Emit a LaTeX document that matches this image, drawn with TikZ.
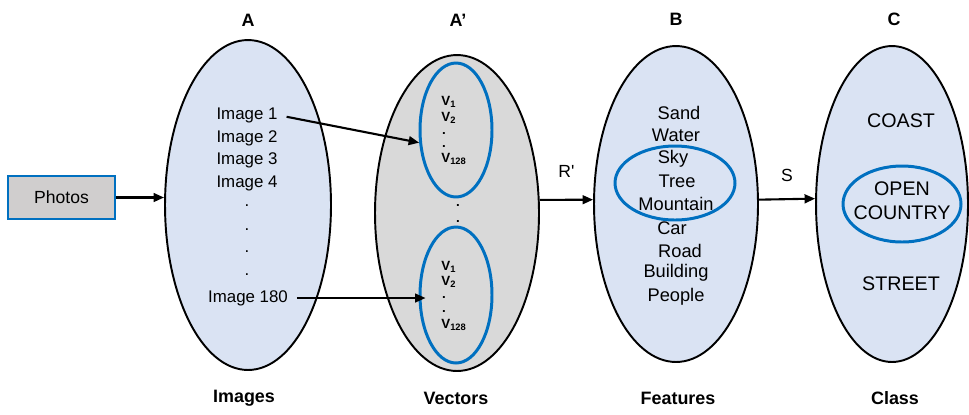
\documentclass[tikz,border=0pt]{standalone}
\usepackage{fontspec}
\setmainfont{Liberation Sans}
\usetikzlibrary{arrows.meta,shapes.geometric}
\definecolor{setfill}{HTML}{DAE3F3}
\definecolor{vecfill}{HTML}{D9D9D9}
\definecolor{ringblue}{HTML}{0070C0}
\definecolor{boxfill}{HTML}{D0CECE}
\begin{document}
\begin{tikzpicture}[x=0.02cm,y=-0.02cm,
  setellipse/.style={ellipse,draw=black,line width=1.1pt,inner sep=0pt},
  ring/.style={ellipse,draw=ringblue,line width=1.7pt,inner sep=0pt},
  imgtxt/.style={font=\fontsize{9.6}{11}\selectfont,inner sep=1pt},
  feattxt/.style={font=\fontsize{10.4}{12}\selectfont,inner sep=1pt},
  classtxt/.style={font=\fontsize{11.2}{13}\selectfont,inner sep=1pt},
  heading/.style={font=\fontsize{10.2}{12}\selectfont\bfseries,inner sep=1pt},
  vec/.style={font=\fontsize{7.6}{8}\selectfont\bfseries,anchor=west,inner sep=0pt},
  dotv/.style={font=\fontsize{7.6}{8}\selectfont\bfseries,inner sep=0pt},
  arr/.style={line width=1.2pt,-{Triangle[length=6pt,width=5pt]}}]
\useasboundingbox (0,0) rectangle (969,414);

% the four sets
\node[setellipse,fill=setfill,minimum width=3.32cm,minimum height=6.6cm] (A) at (248,205) {};
\node[setellipse,fill=vecfill,minimum width=3.28cm,minimum height=6.32cm] (Ap) at (457,213) {};
\node[setellipse,fill=setfill,minimum width=3.28cm,minimum height=6.32cm] (B) at (676,204) {};
\node[setellipse,fill=setfill,minimum width=3.04cm,minimum height=6.32cm] (C) at (892,204) {};

% input box
\node[draw=ringblue,fill=boxfill,line width=0.9pt,minimum width=2.14cm,minimum height=0.86cm,
      font=\fontsize{10}{12}\selectfont] (photos) at (61.5,197.5) {Photos};

% headings and captions
\node[heading] (hA) at (248,20) {A};
\node[heading] (hAp) at (458,20) {A’};
\node[heading] (hB) at (676,19) {B};
\node[heading] (hC) at (894,19) {C};
\node[heading] (cA) at (244,398) {Images};
\node[heading] (cAp) at (456,398) {Vectors};
\node[heading] (cB) at (678,398) {Features};
\node[heading] (cC) at (895,398) {Class};

% images
\node[imgtxt] (img1) at (247,115) {Image 1};
\node[imgtxt] (img2) at (247,138) {Image 2};
\node[imgtxt] (img3) at (247,160) {Image 3};
\node[imgtxt] (img4) at (247,183) {Image 4};
\node[imgtxt] (d1) at (247,206) {.};
\node[imgtxt] (d2) at (247,230) {.};
\node[imgtxt] (d3) at (247,252) {.};
\node[imgtxt] (d4) at (247,275) {.};
\node[imgtxt] (img180) at (248,298) {Image 180};

% vectors
\node[ring,minimum width=1.44cm,minimum height=2.68cm] (vt) at (456,130) {};
\node[ring,minimum width=1.44cm,minimum height=2.72cm] (vb) at (456,295) {};
\node[vec] (vt1) at (441,102) {V\textsubscript{1}};
\node[vec] (vt2) at (441,118) {V\textsubscript{2}};
\node[dotv] (vtd1) at (444,133) {.};
\node[dotv] (vtd2) at (444,146) {.};
\node[vec] (vt3) at (441,159) {V\textsubscript{128}};
\node[vec] (vb1) at (441,267) {V\textsubscript{1}};
\node[vec] (vb2) at (441,282) {V\textsubscript{2}};
\node[dotv] (vbd1) at (444,297) {.};
\node[dotv] (vbd2) at (444,311) {.};
\node[vec] (vb3) at (441,325) {V\textsubscript{128}};
\node[dotv] (md1) at (458,205) {.};
\node[dotv] (md2) at (458,221) {.};

% features
\node[feattxt] (f1) at (679,113) {Sand};
\node[feattxt] (f2) at (676,135) {Water};
\node[feattxt] (f3) at (673,159) {Sky};
\node[feattxt] (f4) at (677,181) {Tree};
\node[feattxt] (f5) at (676,204) {Mountain};
\node[feattxt] (f6) at (672,228) {Car};
\node[feattxt] (f7) at (680,251) {Road};
\node[feattxt] (f8) at (676,273) {Building};
\node[feattxt] (f9) at (676,297) {People};
\node[ring,minimum width=2.4cm,minimum height=1.48cm] (fring) at (675,183) {};

% classes
\node[classtxt] (k1) at (901,121) {COAST};
\node[classtxt] (k2) at (902,189) {OPEN};
\node[classtxt] (k3) at (902,213) {COUNTRY};
\node[classtxt] (k4) at (901,284) {STREET};
\node[ring,minimum width=2.36cm,minimum height=1.52cm] (kring) at (902,204) {};

% mappings
\draw[arr] (photos.east) -- (photos.east -| A.west);
\draw[arr] ([xshift=4pt,yshift=-1pt]img1.east) -- (vt.199);
\draw[arr] ([xshift=4pt]img180.east) -- ([xshift=4pt]img180.east -| vb.west);
\draw[arr] (Ap.9) -- node[above=9pt,font=\fontsize{10}{12}\selectfont] (r) {R\textquotesingle} (B.177);
\draw[arr] (B.3) -- node[above=6pt,font=\fontsize{10}{12}\selectfont] (s) {S} (C.176);
\end{tikzpicture}
\end{document}
